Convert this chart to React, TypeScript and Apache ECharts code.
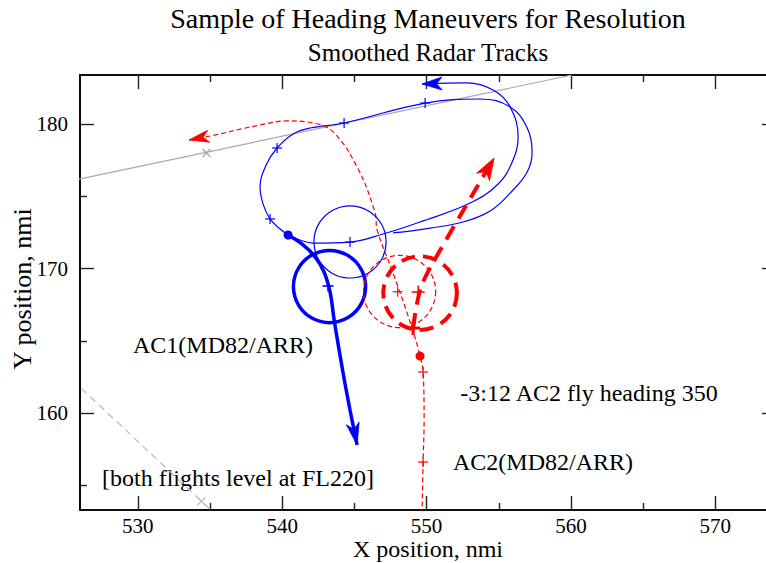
import React, { useEffect, useRef } from "react";
import * as echarts from "echarts";

const FONT = "Liberation Serif, Times New Roman, serif";

// Axis ranges and ticks
const X_MIN = 526;
const X_MAX = 574.2;
const Y_MIN = 153.3;
const Y_MAX = 183.4;
const xTicksMajor = [530, 540, 550, 560, 570];
const xTicksMinor = [535, 545, 555, 565];
const yTicksMajor = [160, 170, 180];
const yTicksMinor = [155, 165, 175];

// AC1 smoothed radar track (thin blue)
const ac1Track = [
  [547.68, 172.47], [550.25, 172.81], [552.53, 173.23], [554.4, 173.99], [555.79, 175.23],
  [556.97, 176.69], [557.31, 178.07], [556.97, 179.73], [555.79, 181.19], [553.71, 181.74],
  [549.9, 181.46], [544.29, 180.08], [541.93, 179.73], [540.76, 179.32], [539.65, 178.35],
  [538.89, 177.17], [538.47, 175.65], [538.68, 174.47], [539.16, 173.44], [539.86, 172.74],
  [540.41, 172.33],
];
const ac1TrackMarks = [[549.9, 181.46], [544.29, 180.08], [539.65, 178.35], [539.16, 173.44]];
// AC1 projected continuation (thin blue with arrow)
const ac1Projection = [
  [540.41, 172.33], [541.24, 171.98], [542.14, 171.77], [544.7, 171.84], [546.99, 172.4],
  [549.55, 173.23], [553.02, 174.54], [554.96, 175.86], [555.93, 177.38], [556.34, 179.11],
  [555.79, 181.19], [554.61, 182.36], [552.81, 182.85], [549.69, 182.78],
];
const ac1ProjectionMarks = [[544.7, 171.84]];
// AC1 resolution maneuver (thick blue with arrow)
const ac1Resolution = [
  [540.41, 172.33], [541.45, 171.64], [542.28, 170.81], [542.9, 169.77], [543.32, 168.38],
  [543.6, 166.45], [544.22, 162.78], [544.7, 160.22], [545.19, 157.8],
];
const ac1ResolutionMarks = [[543.18, 168.8]];
const ac1Dot = [[540.41, 172.33]];
// circles: [x, y, radius]
const ac1ThinCircle = [[544.7, 171.85, 2.5]];
const ac1ThickCircle = [[543.28, 168.76, 2.5]];

// AC2 smoothed radar track (thin red dashed)
const ac2Track = [
  [549.69, 153.0], [549.76, 156.62], [549.83, 159.52], [549.76, 162.85], [549.55, 163.95],
  [549.0, 165.89], [547.68, 169.7], [546.58, 172.67], [546.44, 173.85], [545.19, 177.03],
  [543.53, 179.46], [542.14, 180.08], [540.34, 180.22], [538.47, 179.94], [535.01, 179.18],
  [533.55, 178.9],
];
const ac2TrackMarks = [[549.76, 156.62], [549.76, 162.85]];
const ac2Dot = [[549.55, 163.95]];
// AC2 resolution maneuver (thick red dashed)
const ac2Resolution = [
  [549.07, 165.89], [549.28, 167.28], [549.62, 168.73], [550.39, 170.32], [554.68, 177.66],
];
const ac2ThinCircleMarks = [[548.0, 168.4]];
const ac2ThickCircleMarks = [[549.42, 168.38]];
const ac2StartMark = [[549.07, 165.89]];
const ac2ThinCircle = [[548.13, 168.42, 2.5]];
const ac2ThickCircle = [[549.55, 168.31, 2.55]];

// Other traffic (gray)
const grayTrack = [[525.5, 176.1], [560.06, 183.4]];
const grayTrackMarks = [[534.76, 178.0]];
const grayDashed = [[525.5, 162.27], [535.3, 153.08]];
const grayDashedMarks = [[534.4, 153.9]];

const BLUE = "#0000ff";
const RED = "#ff0000";
const GRAY = "#a8a8a8";

function lineSeries(data: number[][], color: string, width: number, dash: any, smooth: number | boolean) {
  return {
    type: "line",
    data,
    symbol: "none",
    showSymbol: false,
    smooth,
    silent: true,
    clip: true,
    lineStyle: { color, width, type: dash, cap: "butt" },
    z: 3,
  };
}

function markerSeries(data: number[][], kind: string, size: number, color: string, width: number) {
  return {
    type: "custom",
    coordinateSystem: "cartesian2d",
    silent: true,
    clip: true,
    z: 6,
    data,
    renderItem: (_p: any, api: any) => {
      const p = api.coord([api.value(0), api.value(1)]);
      const h = size / 2;
      const segs =
        kind === "+"
          ? [[p[0] - h, p[1], p[0] + h, p[1]], [p[0], p[1] - h, p[0], p[1] + h]]
          : [[p[0] - h, p[1] - h, p[0] + h, p[1] + h], [p[0] - h, p[1] + h, p[0] + h, p[1] - h]];
      return {
        type: "group",
        children: segs.map((s) => ({
          type: "line",
          shape: { x1: s[0], y1: s[1], x2: s[2], y2: s[3] },
          style: { stroke: color, lineWidth: width },
        })),
      };
    },
  };
}

function dotSeries(data: number[][], color: string, r: number) {
  return {
    type: "custom",
    coordinateSystem: "cartesian2d",
    silent: true,
    z: 7,
    data,
    renderItem: (_p: any, api: any) => {
      const p = api.coord([api.value(0), api.value(1)]);
      return { type: "circle", shape: { cx: p[0], cy: p[1], r }, style: { fill: color } };
    },
  };
}

function circleSeries(data: number[][], color: string, width: number, dash: number[] | null) {
  return {
    type: "custom",
    coordinateSystem: "cartesian2d",
    silent: true,
    clip: true,
    z: 4,
    data,
    renderItem: (_p: any, api: any) => {
      const c = api.coord([api.value(0), api.value(1)]);
      const r = api.size([api.value(2), 0])[0];
      return {
        type: "circle",
        shape: { cx: c[0], cy: c[1], r },
        style: { fill: "none", stroke: color, lineWidth: width, lineDash: dash || undefined },
      };
    },
  };
}

function arrowSeries(path: number[][], color: string, length: number, width: number) {
  const n = path.length;
  const data = [[path[n - 2][0], path[n - 2][1], path[n - 1][0], path[n - 1][1]]];
  return {
    type: "custom",
    coordinateSystem: "cartesian2d",
    silent: true,
    z: 8,
    encode: { x: [0, 2], y: [1, 3] },
    data,
    renderItem: (_p: any, api: any) => {
      const a = api.coord([api.value(0), api.value(1)]);
      const b = api.coord([api.value(2), api.value(3)]);
      let dx = b[0] - a[0];
      let dy = b[1] - a[1];
      const d = Math.hypot(dx, dy) || 1;
      dx /= d;
      dy /= d;
      const nx = -dy;
      const ny = dx;
      const bx = b[0] - dx * length;
      const by = b[1] - dy * length;
      const mx = b[0] - dx * length * 0.72;
      const my = b[1] - dy * length * 0.72;
      const w = width / 2;
      return {
        type: "polygon",
        shape: {
          points: [
            [b[0], b[1]],
            [bx + nx * w, by + ny * w],
            [mx, my],
            [bx - nx * w, by - ny * w],
          ],
        },
        style: { fill: color, stroke: color, lineWidth: 0.8 },
      };
    },
  };
}

function xAxisDef(position: string, ticks: number[], len: number, labels: boolean) {
  return {
    type: "value",
    gridIndex: 0,
    position,
    min: X_MIN,
    max: X_MAX,
    axisLine: { show: true, onZero: false, lineStyle: { color: "#000", width: 1.6 } },
    axisTick: { show: true, inside: true, length: len, customValues: ticks, lineStyle: { color: "#222", width: 1.4 } },
    axisLabel: { show: labels, customValues: ticks, margin: 5, fontSize: 21, fontFamily: FONT, color: "#000" },
    splitLine: { show: false },
  };
}

function yAxisDef(position: string, ticks: number[], len: number, labels: boolean) {
  return {
    type: "value",
    gridIndex: 0,
    position,
    min: Y_MIN,
    max: Y_MAX,
    axisLine: { show: true, onZero: false, lineStyle: { color: "#000", width: 1.6 } },
    axisTick: { show: true, inside: true, length: len, customValues: ticks, lineStyle: { color: "#222", width: 1.4 } },
    axisLabel: { show: labels, customValues: ticks, margin: 12, fontSize: 21, fontFamily: FONT, color: "#000" },
    splitLine: { show: false },
  };
}

function textEl(text: string, x: number, y: number, size: number, rotation = 0) {
  return {
    type: "text",
    x,
    y,
    rotation,
    silent: true,
    style: {
      text,
      x: 0,
      y: 0,
      fontSize: size,
      fontFamily: FONT,
      fill: "#000",
      textAlign: "center",
      align: "center",
      textVerticalAlign: "middle",
      verticalAlign: "middle",
    },
  };
}

export default function App() {
  const ref = useRef<HTMLDivElement>(null);
  useEffect(() => {
    if (!ref.current) return;
    const chart = echarts.init(ref.current, null, { renderer: "svg" });
    const option: any = {
      animation: false,
      backgroundColor: "#ffffff",
      grid: {
        left: 80,
        right: -10,
        top: 75,
        bottom: 53,
        containLabel: false,
        outerBoundsMode: "none",
      },
      xAxis: [
        xAxisDef("bottom", xTicksMajor, 14, true),
        xAxisDef("bottom", xTicksMinor, 7, false),
        xAxisDef("top", xTicksMajor, 14, false),
        xAxisDef("top", xTicksMinor, 7, false),
      ],
      yAxis: [
        yAxisDef("left", yTicksMajor, 14, true),
        yAxisDef("left", yTicksMinor, 7, false),
        yAxisDef("right", yTicksMajor, 14, false),
        yAxisDef("right", yTicksMinor, 7, false),
      ],
      graphic: [
        textEl("Sample of Heading Maneuvers for Resolution", 428, 18, 28),
        textEl("Smoothed Radar Tracks", 428, 52, 25),
        textEl("X position, nmi", 428, 549, 24),
        textEl("Y position, nmi", 22, 289, 26, Math.PI / 2),
        textEl("AC1(MD82/ARR)", 223, 345, 24),
        textEl("-3:12 AC2 fly heading 350", 589, 393, 24),
        textEl("AC2(MD82/ARR)", 543, 462, 24),
        textEl("[both flights level at FL220]", 238, 478, 24),
      ],
      series: [
        lineSeries(grayTrack, GRAY, 1.2, "solid", false),
        markerSeries(grayTrackMarks, "x", 8, GRAY, 1.2),
        lineSeries(grayDashed, "#b8b8b8", 1.2, [7, 5], false),
        markerSeries(grayDashedMarks, "x", 8, "#b8b8b8", 1.2),

        lineSeries(ac1Track, BLUE, 1.2, "solid", 0.4),
        markerSeries(ac1TrackMarks, "+", 10, BLUE, 1.2),
        lineSeries(ac1Projection, BLUE, 1.2, "solid", 0.4),
        markerSeries(ac1ProjectionMarks, "+", 10, BLUE, 1.2),
        arrowSeries(ac1Projection, BLUE, 20, 13),
        circleSeries(ac1ThinCircle, BLUE, 1.2, null),
        circleSeries(ac1ThickCircle, BLUE, 3.5, null),
        lineSeries(ac1Resolution, BLUE, 3.5, "solid", 0.4),
        markerSeries(ac1ResolutionMarks, "+", 11, BLUE, 1.6),
        arrowSeries(ac1Resolution, BLUE, 22, 13),
        dotSeries(ac1Dot, BLUE, 4.5),

        lineSeries(ac2Track, RED, 1.2, [5, 3], 0.4),
        markerSeries(ac2TrackMarks, "+", 10, RED, 1.2),
        arrowSeries(ac2Track, RED, 20, 12),
        circleSeries(ac2ThinCircle, RED, 1.2, [5, 3]),
        circleSeries(ac2ThickCircle, RED, 4, [14, 8]),
        lineSeries(ac2Resolution, RED, 4, [15, 9], 0.3),
        markerSeries(ac2ThinCircleMarks, "+", 10, RED, 1.2),
        markerSeries(ac2ThickCircleMarks, "+", 13, RED, 1.5),
        markerSeries(ac2StartMark, "+", 14, RED, 3),
        arrowSeries(ac2Resolution, RED, 22, 15),
        dotSeries(ac2Dot, RED, 4.5),
      ],
    };
    chart.setOption(option);
    return () => chart.dispose();
  }, []);
  return (
    <div
      ref={ref}
      style={{ position: "absolute", left: 0, top: 0, width: 766, height: 563 }}
    />
  );
}
